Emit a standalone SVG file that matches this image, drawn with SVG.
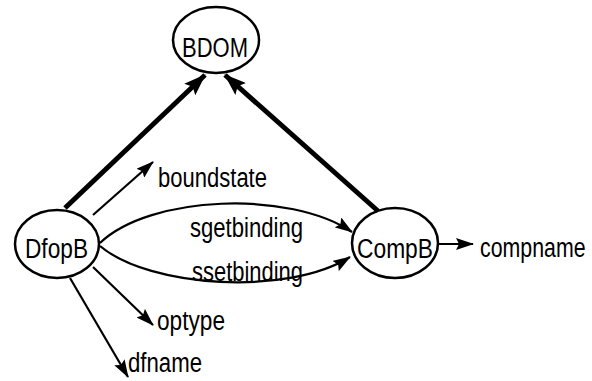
<svg xmlns="http://www.w3.org/2000/svg" width="592" height="381" viewBox="0 0 592 381">
<style>
.node ellipse{fill:none;stroke:#000;stroke-width:2.5}
text{font-family:"Liberation Sans",Arial,sans-serif;font-size:27px;fill:#000}
.thin{fill:none;stroke:#000;stroke-width:2.2}
.thick{fill:none;stroke:#000;stroke-width:5}
</style>
<defs>
<marker id="ah" markerUnits="userSpaceOnUse" markerWidth="18" markerHeight="12" refX="17" refY="6" orient="auto">
<path d="M0,0 L18,6 L0,12 L3,6 z" fill="#000"/>
</marker>
<marker id="ahb" markerUnits="userSpaceOnUse" markerWidth="22" markerHeight="16" refX="21" refY="8" orient="auto">
<path d="M0,0 L22,8 L0,16 L4,8 z" fill="#000"/>
</marker>
</defs>
<rect width="592" height="381" fill="#fff"/>
<g id="connectors">
<path class="thick" d="M65,208 L205,75" marker-end="url(#ahb)"/>
<path class="thick" d="M378,211 L225,75" marker-end="url(#ahb)"/>
<path class="thin" d="M93,215 L153,162" marker-end="url(#ah)"/>
<path class="thin" d="M100,243 C150,195 290,190 352,232" marker-end="url(#ah)"/>
<path class="thin" d="M100,246 C150,288 288,296 350,257" marker-end="url(#ah)"/>
<path class="thin" d="M438,244 L473,244" marker-end="url(#ah)"/>
<path class="thin" d="M93,267 L153,325" marker-end="url(#ah)"/>
<path class="thin" d="M70,278 L128,377" marker-end="url(#ah)"/>
</g>
<g id="BDOM" class="node">
<ellipse cx="216" cy="40" rx="43" ry="33"/>
<text x="182" y="57" textLength="66" lengthAdjust="spacingAndGlyphs">BDOM</text>
</g>
<g id="DfopB" class="node">
<ellipse cx="57" cy="244" rx="42" ry="34"/>
<text x="25" y="258" textLength="63" lengthAdjust="spacingAndGlyphs">DfopB</text>
</g>
<g id="CompB" class="node">
<ellipse cx="395" cy="243" rx="43" ry="35"/>
<text x="357" y="258" textLength="76" lengthAdjust="spacingAndGlyphs">CompB</text>
</g>
<g id="labels">
<text x="158" y="187" textLength="109" lengthAdjust="spacingAndGlyphs">boundstate</text>
<text x="190" y="237" textLength="113" lengthAdjust="spacingAndGlyphs">sgetbinding</text>
<text x="192" y="281" textLength="111" lengthAdjust="spacingAndGlyphs">ssetbinding</text>
<text transform="translate(480,257) scale(0.79,1)" x="0" y="0">compname</text>
<text x="157" y="330" textLength="68" lengthAdjust="spacingAndGlyphs">optype</text>
<text x="128" y="372" textLength="74" lengthAdjust="spacingAndGlyphs">dfname</text>
</g>
</svg>
